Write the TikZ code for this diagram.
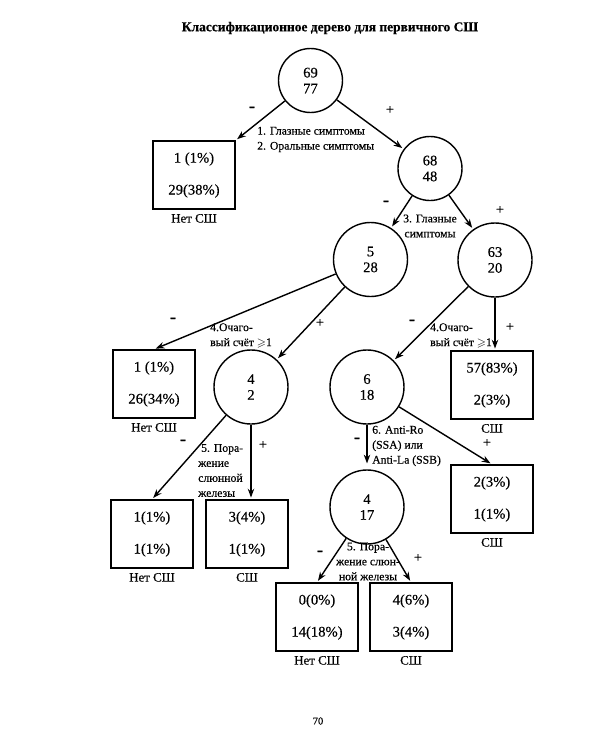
\documentclass[tikz,border=0pt]{standalone}
\usepackage{amssymb}
\usepackage{fontspec}
\setmainfont{Liberation Serif}[FakeBold=0.4]
\usetikzlibrary{positioning, arrows, arrows.meta}
\tikzset{
	splitnode/.style={circle, draw, very thick, minimum size=2.22cm, inner sep=0pt, align=center, font=\fontsize{12.5}{13.5}\selectfont}
}
\tikzset{
	leafbox/.style={rectangle, draw, very thick, minimum width=2.46cm, minimum height=2.04cm, inner sep=0pt, align=center, font=\fontsize{12.5}{12.8}\selectfont}
}
\tikzset{
	leaftext/.style={font=\fontsize{11}{12}\selectfont, inner sep=1pt}
}
\tikzset{
	ruletext/.style={font=\fontsize{10}{12.8}\selectfont, inner sep=0pt, align=left}
}
\tikzset{
	signtext/.style={font=\fontsize{12}{12}\selectfont, inner sep=0pt},
	minustext/.style={font=\bfseries\fontsize{15}{15}\selectfont, inner sep=0pt},
	branch/.style={very thick, ->, shorten >=1.5pt}
}
\newcommand{\boxpair}[2]{#1\\[14.5pt]#2}

\begin{document}
\begin{tikzpicture}[>={Stealth[length=7.5pt, width=5.5pt]}]
      \useasboundingbox (0,0) rectangle (18.24,-22.68);
      \node[font=\bfseries\fontsize{11.5}{11.5}\selectfont] (title) at (9.90,-0.84) {Классификационное дерево для первичного СШ};
      % split nodes
      \node[splitnode, minimum size=1.92cm] (n69) at (9.315,-2.415) {69\\77};
      \node[splitnode, minimum size=1.92cm] (n68) at (12.90,-5.055) {68\\48};
      \node[splitnode] (n5) at (11.115,-7.785) {5\\28};
      \node[splitnode] (n63) at (14.85,-7.80) {63\\20};
      \node[splitnode] (n4a) at (7.53,-11.61) {4\\2};
      \node[splitnode] (n6) at (11.01,-11.61) {6\\18};
      \node[splitnode] (n4b) at (11.01,-15.21) {4\\17};
      % leaves
      \node[leafbox] (boxA) at (5.82,-5.25) {\boxpair{1 (1\%)}{29(38\%)}};
      \node[leafbox] (boxB) at (4.62,-11.52) {\boxpair{1 (1\%)}{26(34\%)}};
      \node[leafbox] (boxC) at (14.76,-11.55) {\boxpair{57(83\%)}{2(3\%)}};
      \node[leafbox] (boxD) at (4.56,-16.02) {\boxpair{1(1\%)}{1(1\%)}};
      \node[leafbox] (boxE) at (7.41,-16.02) {\boxpair{3(4\%)}{1(1\%)}};
      \node[leafbox] (boxF) at (14.76,-14.97) {\boxpair{2(3\%)}{1(1\%)}};
      \node[leafbox] (boxG) at (9.51,-18.51) {\boxpair{0(0\%)}{14(18\%)}};
      \node[leafbox] (boxH) at (12.33,-18.51) {\boxpair{4(6\%)}{3(4\%)}};
      \node[leaftext, below=2.5pt of boxA] (lblA) {Нет СШ};
      \node[leaftext, below=2.5pt of boxB] (lblB) {Нет СШ};
      \node[leaftext, below=2.5pt of boxC] (lblC) {СШ};
      \node[leaftext, below=2.5pt of boxD] (lblD) {Нет СШ};
      \node[leaftext, below=2.5pt of boxE] (lblE) {СШ};
      \node[leaftext, below=2.5pt of boxF] (lblF) {СШ};
      \node[leaftext, below=2.5pt of boxG] (lblG) {Нет СШ};
      \node[leaftext, below=2.5pt of boxH] (lblH) {СШ};
      % branches
      \draw[branch] (n69) -- (boxA.north east);
      \draw[branch] (n69) -- (n68);
      \draw[branch] (n68) -- (n5);
      \draw[branch] (n68) -- (n63);
      \draw[branch] (n5) -- (boxB.north);
      \draw[branch] (n5) -- (n4a);
      \draw[branch] (n63) -- (n6);
      \draw[branch] (n63) -- (n63 |- boxC.north);
      \draw[branch] (n4a) -- (boxD.north);
      \draw[branch] (n4a) -- (n4a |- boxE.north);
      \draw[branch, shorten >=5pt] (n6) -- (n4b);
      \draw[branch] (n6) -- (boxF.north);
      \draw[branch] (n4b) -- (boxG.north);
      \draw[branch] (n4b) -- (boxH.north);
      % signs
      \node[minustext] (s69m) at (7.56,-3.27) {-};
      \node[signtext] (s69p) at (11.70,-3.30) {+};
      \node[minustext] (s68m) at (11.58,-6.09) {-};
      \node[signtext] (s68p) at (15.00,-6.30) {+};
      \node[minustext] (s5m) at (5.19,-9.60) {-};
      \node[signtext] (s5p) at (9.60,-9.69) {+};
      \node[minustext] (s63m) at (12.36,-9.66) {-};
      \node[signtext] (s63p) at (15.30,-9.81) {+};
      \node[minustext] (s4am) at (5.49,-13.26) {-};
      \node[signtext] (s4ap) at (7.89,-13.35) {+};
      \node[minustext] (s6m) at (10.71,-13.20) {-};
      \node[signtext] (s6p) at (14.61,-13.29) {+};
      \node[minustext] (s4bm) at (9.60,-16.59) {-};
      \node[signtext] (s4bp) at (12.54,-16.74) {+};
      % split rules
      \node[ruletext, anchor=west] (q12) at (7.71,-4.185) {1. Глазные симптомы\\2. Оральные симптомы};
      \node[ruletext, align=center] (q3) at (12.90,-6.78) {3. Глазные\\симптомы};
      \node[ruletext, anchor=west] (q4l) at (6.30,-10.065) {4.Очаго-\\вый счёт $\geqslant$1};
      \node[ruletext, anchor=west] (q4r) at (12.90,-10.065) {4.Очаго-\\вый счёт $\geqslant$1};
      \node[ruletext, anchor=west] (q5l) at (5.94,-14.115) {\ 5. Пора-\\жение\\слюнной\\железы};
      \node[ruletext, anchor=west] (q6) at (11.16,-13.38) {6. Anti-Ro\\(SSA) или\\Anti-La (SSB)};
      \node[ruletext, align=center] (q5r) at (11.04,-16.845) {5. Пора-\\жение слюн-\\ной железы};
      \node[font=\fontsize{9}{9}\selectfont] (pageno) at (9.54,-21.63) {70};
    \end{tikzpicture}
\end{document}
